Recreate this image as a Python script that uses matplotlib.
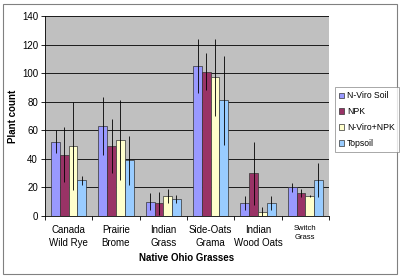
import numpy as np
import matplotlib
matplotlib.use("Agg")
import matplotlib.pyplot as plt
from matplotlib.patches import Rectangle

# data
grasses = ["Canada\nWild Rye", "Prairie\nBrome", "Indian\nGrass", "Side-Oats\nGrama", "Indian\nWood Oats", "Switch\nGrass"]
series = ["N-Viro Soil", "NPK", "N-Viro+NPK", "Topsoil"]
nviro = [52, 63, 10, 105, 9, 20]
npk = [43, 49, 9, 101, 30, 16]
nviro_npk = [49, 53, 14, 97, 3, 14]
topsoil = [25, 39, 12, 81, 9, 25]
nviro_err = [8, 20, 6, 19, 5, 3]
npk_err = [19, 19, 8, 13, 22, 3]
nviro_npk_err = [31, 28, 5, 27, 3, 1]
topsoil_err = [3, 17, 3, 31, 5, 12]

colors = ["#9999FF", "#993366", "#FFFFCC", "#99CCFF"]
values = [nviro, npk, nviro_npk, topsoil]
errors = [nviro_err, npk_err, nviro_npk_err, topsoil_err]

plt.rcParams["font.family"] = "Liberation Sans"

fig = plt.figure(figsize=(4, 2.77), dpi=100)
ax = fig.add_axes([45/400, 61/277, 284/400, 200/277])
ax.set_facecolor("#C0C0C0")

x = np.arange(len(grasses))
w = 0.185
for i, (name, vals, errs, c) in enumerate(zip(series, values, errors, colors)):
    pos = x + (i - 1.5) * w
    ax.bar(pos, vals, w, color=c, edgecolor="#333333", linewidth=0.5, label=name, zorder=2)
    ax.errorbar(pos, vals, yerr=errs, fmt="none", ecolor="black", elinewidth=0.6, capsize=0, zorder=3)

ax.set_xlim(-0.5, len(grasses) - 0.5)
ax.set_ylim(0, 140)
ax.set_yticks(range(0, 141, 20))
ax.yaxis.grid(True, color="black", linewidth=0.6, zorder=1)
ax.set_axisbelow(True)
for s in ["top", "right"]:
    ax.spines[s].set_visible(False)
ax.spines["left"].set_linewidth(0.6)
ax.spines["bottom"].set_linewidth(0.6)
ax.tick_params(axis="y", labelsize=7, length=3, width=0.6, pad=2)

# category ticks sit between the groups
ax.set_xticks(np.arange(-0.5, len(grasses), 1))
ax.set_xticklabels([])
ax.tick_params(axis="x", length=3, width=0.6)
for xi, g in zip(x, grasses):
    fs = 5.5 if g.startswith("Switch") else 7
    ax.text(xi, -6.5, g, ha="center", va="top", fontsize=fs, linespacing=1.3)

ax.set_ylabel("Plant count", fontsize=7, fontweight="bold")
ax.yaxis.set_label_coords(-0.095, 0.5)
ax.set_xlabel("Native Ohio Grasses", fontsize=7, fontweight="bold")
ax.xaxis.set_label_coords(0.5, -0.185)

leg = fig.legend(loc="upper left", bbox_to_anchor=(335/400, 1 - 87/277), fontsize=6.2,
                 frameon=True, fancybox=False, edgecolor="#808080", handlelength=0.6,
                 handleheight=0.6, handletextpad=0.3, labelspacing=0.8, borderpad=0.5,
                 borderaxespad=0)
leg.get_frame().set_linewidth(0.6)

fig.patches.append(Rectangle((3/400, 3/277), 394/400, 270/277, transform=fig.transFigure,
                             fill=False, edgecolor="#808080", linewidth=0.8))

fig.savefig("out.png", dpi=100)
